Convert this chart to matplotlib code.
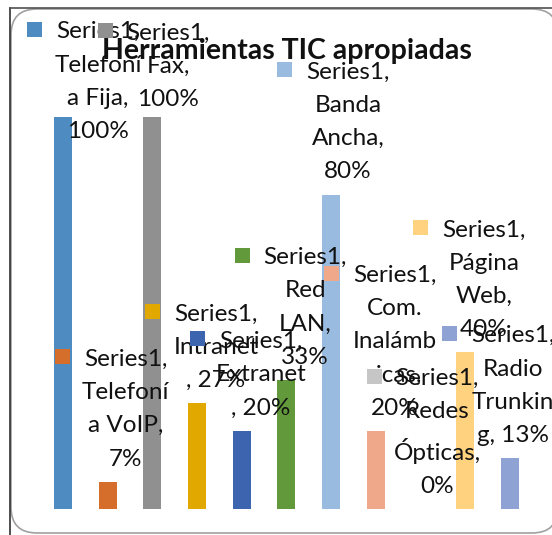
import matplotlib.pyplot as plt
from matplotlib.patches import Rectangle, FancyBboxPatch
from matplotlib.transforms import IdentityTransform

plt.rcParams['font.family'] = ['Lato', 'DejaVu Sans']

categories = ['Telefonía Fija', 'Telefonía VoIP', 'Fax', 'Intranet', 'Extranet', 'Red LAN',
              'Banda Ancha', 'Com. Inalámbricas', 'Redes Ópticas', 'Página Web', 'Radio Trunking']
values = [1.00, 0.07, 1.00, 0.27, 0.20, 0.33, 0.80, 0.20, 0.00, 0.40, 0.13]
colors = ['#4E8BC0', '#D56E2B', '#909090', '#E1A900', '#3D65AF', '#62993B',
          '#99BBE0', '#F0A88B', '#C6C6C6', '#FFD280', '#8EA3D4']
# data labels wrapped the way the original chart shows them
label_lines = [
    ['Series1,', 'Telefoní', 'a Fija,', '100%'],
    ['Series1,', 'Telefoní', 'a VoIP,', '7%'],
    ['Series1,', 'Fax,', '100%'],
    ['Series1,', 'Intranet', ', 27%'],
    ['Series1,', 'Extranet', ', 20%'],
    ['Series1,', 'Red', 'LAN,', '33%'],
    ['Series1,', 'Banda', 'Ancha,', '80%'],
    ['Series1,', 'Com.', 'Inalámb', 'ricas,', '20%'],
    ['Series1,', 'Redes', 'Ópticas,', '0%'],
    ['Series1,', 'Página', 'Web,', '40%'],
    ['Series1,', 'Radio', 'Trunkin', 'g, 13%'],
]
# label shifts in pixels (x, y above the bar top)
label_shift = [(35, -25), (18, 12), (16, 7), (19, 12), (19, 12), (19, 12),
               (17, 13), (19, 12), (17, 12), (19, 12), (3, 12)]

W, H = 552, 535
fig = plt.figure(figsize=(W / 100, H / 100), dpi=100)

# chart frame
bg = fig.add_axes([0, 0, 1, 1], zorder=0)
bg.set_xlim(0, W)
bg.set_ylim(H, 0)
bg.axis('off')
bg.add_patch(FancyBboxPatch((11, 9), 547, 524, boxstyle='round,pad=0,rounding_size=26',
                            fc='white', ec='#A0A0A0', lw=1.2))
bg.plot([10, 10], [8, H], color='#303030', lw=1.2)
bg.plot([10, W], [8, 8], color='#505050', lw=1.2)

ax = fig.add_axes([40.6 / W, 26 / H, 491.4 / W, 392 / H], zorder=1)
ax.patch.set_visible(False)
x = list(range(len(categories)))
ax.bar(x, values, width=0.40, color=colors)
ax.set_xlim(-0.5, len(categories) - 0.5)
ax.set_ylim(0, 1.0)
ax.axis('off')

fs = 17.5
labels = []
for i, v in enumerate(values):
    dx, dy = label_shift[i]
    t = ax.annotate('\n'.join(label_lines[i]), xy=(i, v), xytext=(dx, dy),
                    textcoords='offset pixels', ha='center', va='bottom',
                    fontsize=fs, linespacing=1.72, color='#111111',
                    multialignment='center', annotation_clip=False, zorder=3)
    labels.append(t)

fig.text(286.5 / W, 1 - 51 / H, 'Herramientas TIC apropiadas', ha='center', va='center',
         fontsize=20.5, fontweight='bold', color='#111111', zorder=5)

# legend keys next to the first line of each label
fig.canvas.draw()
r = fig.canvas.get_renderer()
probe = fig.text(0, 0, 'Series1,', fontsize=fs)
w1 = probe.get_window_extent(r).width
probe.remove()
for i, t in enumerate(labels):
    bb = t.get_window_extent(r)
    n = len(label_lines[i])
    lh = bb.height / n
    cx = (bb.x0 + bb.x1) / 2
    kx = cx - w1 / 2 - 14 - 15
    ky = bb.y1 - lh * 0.5 - 0.5
    fig.add_artist(Rectangle((kx, ky), 15, 15, transform=IdentityTransform(),
                             fc=colors[i], ec='none', zorder=4))

fig.savefig('out.png', dpi=100)
